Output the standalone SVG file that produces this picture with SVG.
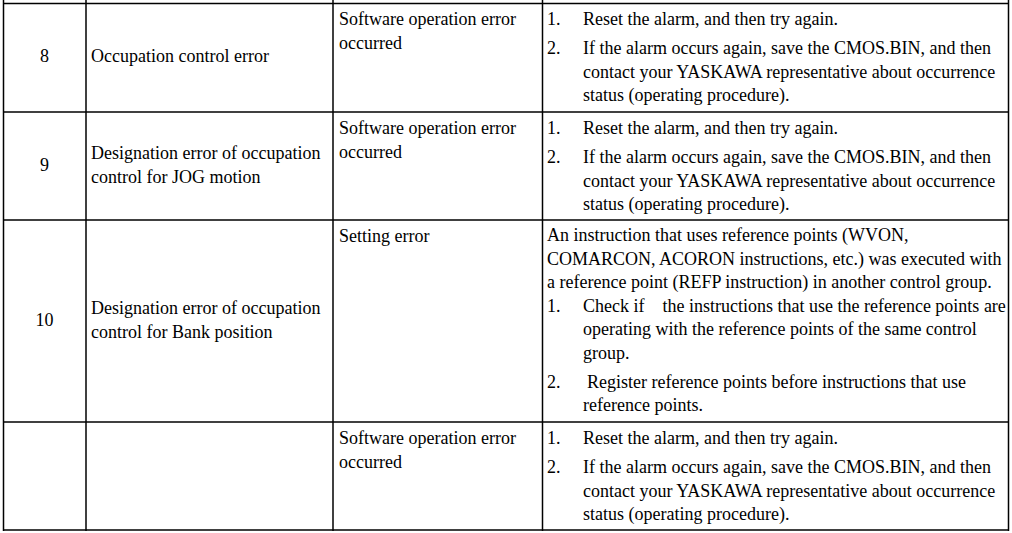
<svg xmlns="http://www.w3.org/2000/svg" width="1012" height="533" viewBox="0 0 1012 533">
<style>
text{font-family:"Liberation Serif","Times New Roman",serif;font-size:18px;fill:#000}
.c{text-anchor:middle}
.grid line{stroke:#000;stroke-width:1.5}
</style>
<rect width="1012" height="533" fill="#fff"/>
<g id="grid" class="grid">
<line x1="3.5" y1="0" x2="3.5" y2="531"/>
<line x1="86" y1="0" x2="86" y2="531"/>
<line x1="333" y1="0" x2="333" y2="531"/>
<line x1="542.5" y1="0" x2="542.5" y2="531"/>
<line x1="1008.5" y1="0" x2="1008.5" y2="531"/>
<line x1="3" y1="3.5" x2="1009" y2="3.5"/>
<line x1="3" y1="112" x2="1009" y2="112"/>
<line x1="3" y1="220" x2="1009" y2="220"/>
<line x1="3" y1="422" x2="1009" y2="422"/>
<line x1="3" y1="530" x2="1009" y2="530"/>
</g>
<g id="row8">
<text class="c" x="44.5" y="62">8</text>
<text x="91" y="62">Occupation control error</text>
<text x="339" y="25">Software operation error</text>
<text x="339" y="48.5">occurred</text>
<text x="547" y="25">1.</text><text x="583" y="25">Reset the alarm, and then try again.</text>
<text x="547" y="53.5">2.</text><text x="583" y="53.5">If the alarm occurs again, save the CMOS.BIN, and then</text>
<text x="583" y="77.5">contact your YASKAWA representative about occurrence</text>
<text x="583" y="100.5">status (operating procedure).</text>
</g>
<g id="row9">
<text class="c" x="44.5" y="171">9</text>
<text x="91" y="159">Designation error of occupation</text>
<text x="91" y="182.5">control for JOG motion</text>
<text x="339" y="134">Software operation error</text>
<text x="339" y="157.5">occurred</text>
<text x="547" y="133.5">1.</text><text x="583" y="133.5">Reset the alarm, and then try again.</text>
<text x="547" y="162.5">2.</text><text x="583" y="162.5">If the alarm occurs again, save the CMOS.BIN, and then</text>
<text x="583" y="186.5">contact your YASKAWA representative about occurrence</text>
<text x="583" y="209.5">status (operating procedure).</text>
</g>
<g id="row10">
<text class="c" x="44.5" y="326">10</text>
<text x="91" y="314">Designation error of occupation</text>
<text x="91" y="337.5">control for Bank position</text>
<text x="339" y="241.5">Setting error</text>
<text x="547" y="241">An instruction that uses reference points (WVON,</text>
<text x="547" y="264.5">COMARCON, ACORON instructions, etc.) was executed with</text>
<text x="547" y="288">a reference point (REFP instruction) in another control group.</text>
<text x="547" y="311.5">1.</text><text x="583" y="311.5" xml:space="preserve">Check if    the instructions that use the reference points are</text>
<text x="583" y="335">operating with the reference points of the same control</text>
<text x="583" y="358.5">group.</text>
<text x="547" y="387.5">2.</text><text x="587" y="387.5">Register reference points before instructions that use</text>
<text x="583" y="411">reference points.</text>
</g>
<g id="row11">
<text x="339" y="444">Software operation error</text>
<text x="339" y="467.5">occurred</text>
<text x="547" y="444">1.</text><text x="583" y="444">Reset the alarm, and then try again.</text>
<text x="547" y="473">2.</text><text x="583" y="473">If the alarm occurs again, save the CMOS.BIN, and then</text>
<text x="583" y="496.5">contact your YASKAWA representative about occurrence</text>
<text x="583" y="520">status (operating procedure).</text>
</g>
</svg>
